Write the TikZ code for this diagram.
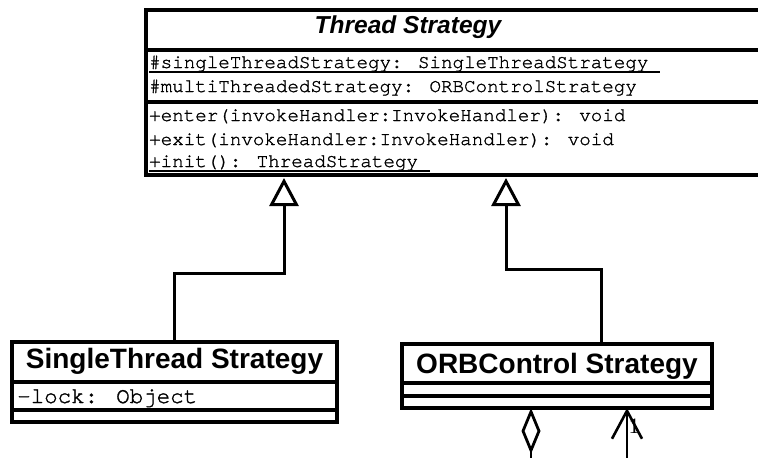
\documentclass[tikz,border=0pt]{standalone}
\usepackage{fontspec}
\setmainfont{Liberation Sans}
\newfontfamily\monof[FakeBold=1.3]{texgyrecursor-regular.otf}
\newfontfamily\seriff{Liberation Serif}
\usetikzlibrary{arrows.meta}
\newcommand\myul[1]{\setbox0\hbox{#1}\rlap{\rule[-4.5pt]{\wd0}{1.5pt}}\box0}
\begin{document}
\begin{tikzpicture}[x=1pt,y=-1pt,
  umlbox/.style={draw, line width=3.2pt, inner sep=0pt, outer sep=0pt, anchor=north west, fill=white},
  divline/.style={line width=3.2pt},
  mono/.style={anchor=base west, inner sep=0pt, font=\monof\fontsize{19.2}{23}\selectfont},
  monobig/.style={anchor=base west, inner sep=0pt, font=\monof\fontsize{22.5}{26}\selectfont},
  ttl/.style={anchor=base, inner sep=0pt, font=\bfseries\fontsize{28}{30}\selectfont},
  gen/.style={line width=3pt, shorten >=3pt, -{Triangle[open, length=28pt, width=29pt]}},
  agg/.style={line width=2.8pt, {Diamond[open, length=46pt, width=19pt]}-},
  nav/.style={line width=2.6pt, -{Straight Barb[length=28pt, width=30pt]}}
]
\useasboundingbox (0,0) rectangle (758,458);
\clip (0,0) rectangle (758,458);

% Thread Strategy
\node[umlbox, minimum width=634pt, minimum height=165pt] (ts) at (146,10) {};
\draw[divline] (146,50) -- (785,50);
\draw[divline] (146,102) -- (785,102);
\node[anchor=base, inner sep=0pt, font=\bfseries\itshape\fontsize{24.5}{28}\selectfont] (tst) at (408,33) {Thread Strategy};
\node[mono] (a1) at (149,68) {\myul{\#singleThreadStrategy: SingleThreadStrategy\ }};
\node[mono] (a2) at (149,92) {\#multiThreadedStrategy: ORBControlStrategy};
\node[mono] (m1) at (149,121) {+enter(invokeHandler:InvokeHandler): void};
\node[mono] (m2) at (149,145) {+exit(invokeHandler:InvokeHandler): void};
\node[mono] (m3) at (149,167) {\myul{+init(): ThreadStrategy\ }};

% SingleThread Strategy
\node[umlbox, minimum width=325pt, minimum height=80pt] (st) at (12,342) {};
\draw[divline] (12,382) -- (337,382);
\draw[divline] (12,410) -- (337,410);
\node[ttl] (stt) at (174.5,368) {SingleThread Strategy};
\node[monobig] (sa1) at (17,403) {-lock: Object};

% ORBControl Strategy
\node[umlbox, minimum width=310pt, minimum height=64pt] (oc) at (402,344) {};
\draw[divline] (402,383) -- (712,383);
\draw[divline] (402,396) -- (712,396);
\node[ttl] (oct) at (557,373) {ORBControl Strategy};

% generalisations
\coordinate (g1) at (284,273);
\draw[gen] (st.north) |- (g1) -- (g1 |- ts.south);
\coordinate (g2) at (506,269);
\draw[gen] ([xshift=44pt]oc.north) |- (g2) -- (g2 |- ts.south);

% aggregation and navigable association
\coordinate (e1) at (531,470);
\draw[agg] (e1 |- oc.south) -- (e1);
\node[anchor=base, inner sep=0pt, font=\seriff\fontsize{22}{22}\selectfont] (one) at (634,433) {1};
\coordinate (e2) at (627,470);
\draw[nav] (e2) -- (e2 |- oc.south);
\end{tikzpicture}
\end{document}
